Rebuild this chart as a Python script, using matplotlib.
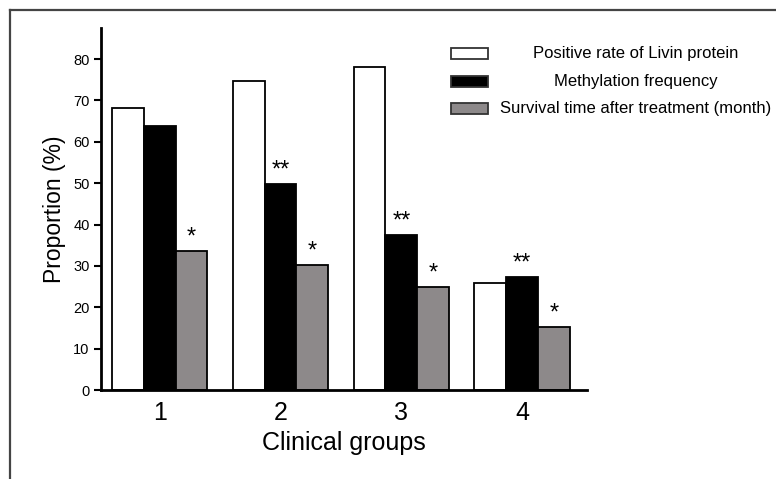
import matplotlib
matplotlib.use("Agg")
import matplotlib.pyplot as plt
from matplotlib.patches import Rectangle
from matplotlib.lines import Line2D
import numpy as np

plt.rcParams['font.family'] = ['Liberation Sans', 'DejaVu Sans']

groups = ["1", "2", "3", "4"]
series_names = ["Positive rate of Livin protein",
                "Methylation frequency",
                "Survival time after treatment (month)"]
livin = [68.2, 74.6, 78.1, 25.9]
methylation = [63.9, 49.8, 37.4, 27.4]
survival = [33.6, 30.1, 25.0, 15.2]
marks_livin = ["", "", "", ""]
marks_methylation = ["", "**", "**", "**"]
marks_survival = ["*", "*", "*", "*"]
y_ticks = [0, 10, 20, 30, 40, 50, 60, 70, 80]

series = [livin, methylation, survival]
marks = [marks_livin, marks_methylation, marks_survival]
colors = ["white", "black", "#8d898a"]

fig = plt.figure(figsize=(7.76, 4.79), dpi=100)
ax = fig.add_axes([100.7 / 776, 89 / 479, 486 / 776, 362 / 479])

x = np.arange(len(groups))
w = 0.263
for i, (vals, col, mk) in enumerate(zip(series, colors, marks)):
    pos = x + (i - 1) * w
    ax.bar(pos, vals, width=w, color=col, edgecolor="black", linewidth=1.3,
           zorder=2)
    for px, v, m in zip(pos, vals, mk):
        if m:
            ax.text(px, v + 0.6, m, ha="center", va="bottom", fontsize=17,
                    color="black")

ax.set_xlim(-0.49, 3.535)
ax.set_ylim(0, 87.5)
ax.set_yticks(y_ticks)
ax.set_xticks(x)
ax.set_xticklabels(groups, fontsize=18)
ax.tick_params(axis="x", length=0, pad=8)
ax.tick_params(axis="y", direction="out", length=5, width=1.5, labelsize=10.5,
               pad=3)
for s in ["top", "right"]:
    ax.spines[s].set_visible(False)
for s in ["left", "bottom"]:
    ax.spines[s].set_linewidth(2)
ax.set_ylabel("Proportion (%)", fontsize=16.5, labelpad=5)
ax.set_xlabel("Clinical groups", fontsize=18, labelpad=4)

# legend drawn manually with centered text
W, H = 776.0, 479.0
rows_y = [53.8, 81.2, 108.4]
for yy, col, name in zip(rows_y, colors, series_names):
    fig.patches.append(Rectangle((450.5 / W, 1 - (yy + 5.5) / H), 37 / W, 11 / H,
                                 facecolor=col, edgecolor="#333333",
                                 linewidth=1.3, transform=fig.transFigure))
    fig.text(636 / W, 1 - yy / H, name, ha="center", va="center",
             fontsize=12)

# frame around the figure (left and top edges)
fig.lines.append(Line2D([9.5 / W, 9.5 / W], [0, 1 - 10 / H],
                        color="#444444", linewidth=1.6,
                        transform=fig.transFigure))
fig.lines.append(Line2D([9.5 / W, 1], [1 - 10 / H, 1 - 10 / H],
                        color="#444444", linewidth=1.6,
                        transform=fig.transFigure))

fig.savefig("out.png", dpi=100)
